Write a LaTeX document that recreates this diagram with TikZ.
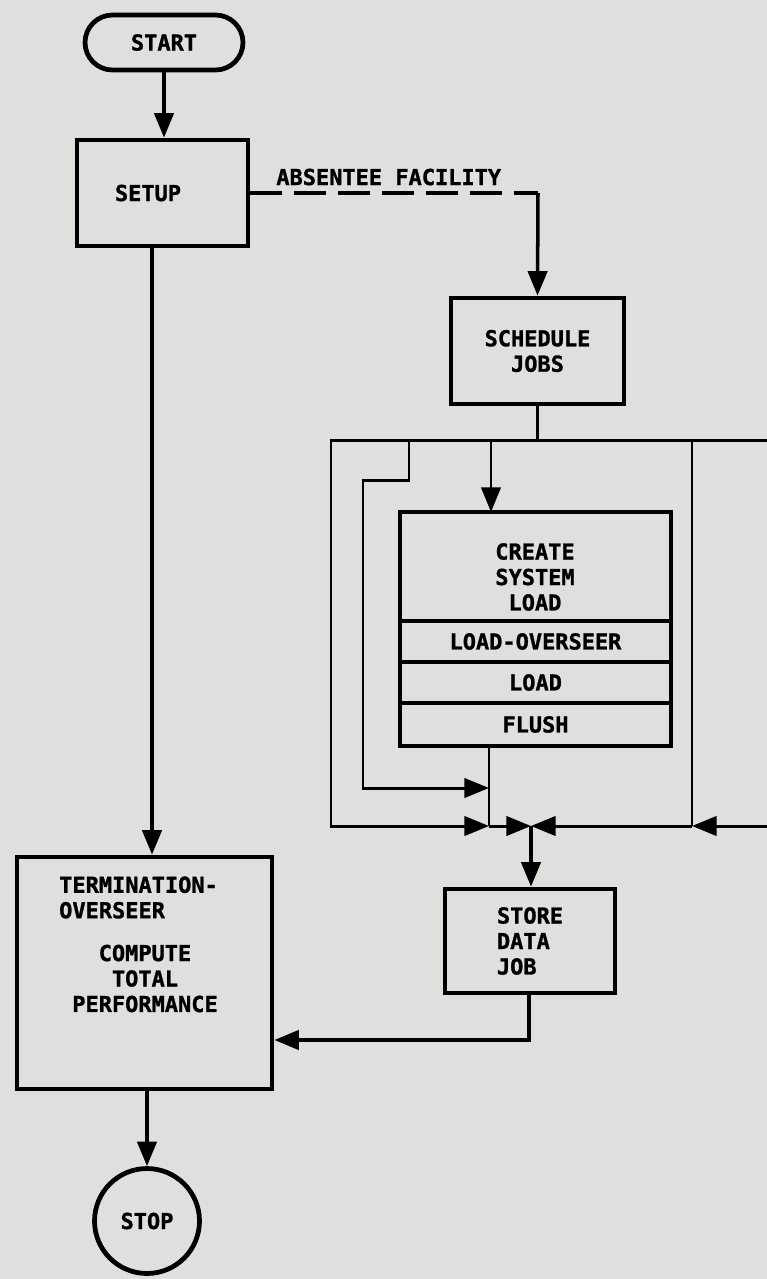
\documentclass[tikz,border=0pt]{standalone}
\usepackage{fontspec}
\setmonofont[BoldFeatures={FakeBold=1.2}]{DejaVu Sans Mono}
\usepackage{xcolor}
\usepackage{tikz}
\usetikzlibrary{arrows.meta,positioning}
\definecolor{paper}{RGB}{223,223,221}
\makeatletter
\renewcommand\small{%
  \@setfontsize\small{12.5pt}{14.5pt}%
}
\makeatother

\tikzset{
  box/.style={draw, line width=2.7pt, minimum width=3.46cm, minimum height=2.12cm},
  pill/.style={draw, line width=2.7pt, rounded corners=0.55cm, minimum width=3.16cm, minimum height=1.1cm},
  part/.style={draw, line width=2.5pt, minimum width=5.42cm, outer sep=0pt},
  conn/.style={line width=2pt},
  bus/.style={line width=1.7pt},
  dline/.style={line width=2.1pt, dash pattern=on 18pt off 7pt},
}

\begin{document}
\begin{tikzpicture}[x=0.02cm, y=-0.02cm, >={Triangle[length=14pt,width=11pt]},
    every node/.style={font=\small\ttfamily\bfseries, align=center}]
  \path[use as bounding box, fill=paper] (0,0) rectangle (767,1279);

  % boxes
  \node[pill] (start) at (164,42.5) {START};
  \node[box, minimum width=3.42cm] (setup) at (162.5,193) {};
  \node (setuptxt) at (148,193) {SETUP};
  \node[anchor=base west, inner sep=0pt] (absent) at (276,185) {ABSENTEE FACILITY};
  \node[box] (sched) at (537.5,351) {SCHEDULE\\JOBS};
  \node[part, minimum height=2.18cm] (create) at (535.5,566.5) {};
  \node (createtxt) at (535,577) {CREATE\\SYSTEM\\LOAD};
  \node[part, minimum height=0.82cm, below=0pt of create] (ovs) {LOAD-OVERSEER};
  \node[part, minimum height=0.82cm, below=0pt of ovs] (load) {LOAD};
  \node[part, minimum height=0.86cm, below=0pt of load] (flush) {FLUSH};
  \node[box, minimum width=3.4cm, minimum height=2.08cm, align=left] (store) at (530,941) {STORE\\DATA\\JOB};
  \node[box, minimum width=5.1cm, minimum height=4.64cm] (term) at (144.5,973) {};
  \node[anchor=west, align=left] (termhead) at (53,897.5) {TERMINATION-\\OVERSEER};
  \node (termbody) at (145,978.5) {COMPUTE\\TOTAL\\PERFORMANCE};
  \node[draw, circle, line width=2.7pt, minimum size=2.1cm, inner sep=0pt] (stop) at (147,1221) {STOP};

  % junctions
  \coordinate (sdn) at (152,0);
  \coordinate (abend) at (538,193);
  \coordinate (topL) at (331,440);
  \coordinate (topR) at (767,440);
  \coordinate (tapI) at (409,440);
  \coordinate (tapC) at (491,440);
  \coordinate (innA) at (409,480);
  \coordinate (innB) at (363,480);
  \coordinate (innC) at (363,788);
  \coordinate (fin) at (489,788);
  \coordinate (botL) at (331,826);
  \coordinate (fdn) at (489,826);
  \coordinate (mid) at (531,826);
  \coordinate (rv) at (692,826);
  \coordinate (botR) at (767,826);
  \coordinate (sj) at (529,1040);

  % main flow
  \draw[conn, ->] (start.south) -- (start.south |- setup.north);
  \draw[conn, ->] (setup.south -| sdn) -- (term.north -| sdn);
  \draw[dline] (setup.east) -- (abend);
  \draw[conn, ->] (abend) -- (sched.north);
  \draw[bus] (sched.south) -- (sched.south |- topL);
  \draw[bus, ->] (topR) -- (topL) -- (botL) -- (fdn);
  \draw[bus, ->] (tapI) -- (innA) -- (innB) -- (innC) -- (fin);
  \draw[bus, ->] (tapC) -- (tapC |- create.north);
  \draw[bus] (flush.south -| fdn) -- (fdn);
  \draw[bus, ->] (fdn) -- (mid);
  \draw[bus, ->] (rv) -- (mid);
  \draw[bus] (rv |- topL) -- (rv);
  \draw[bus, ->] (botR) -- (rv);
  \draw[conn, ->] (mid) -- (mid |- store.north);
  \draw[conn, ->] (store.south -| sj) -- (sj) -- (sj -| term.east);
  \draw[conn, ->] (stop |- term.south) -- (stop.north);
\end{tikzpicture}
\end{document}
